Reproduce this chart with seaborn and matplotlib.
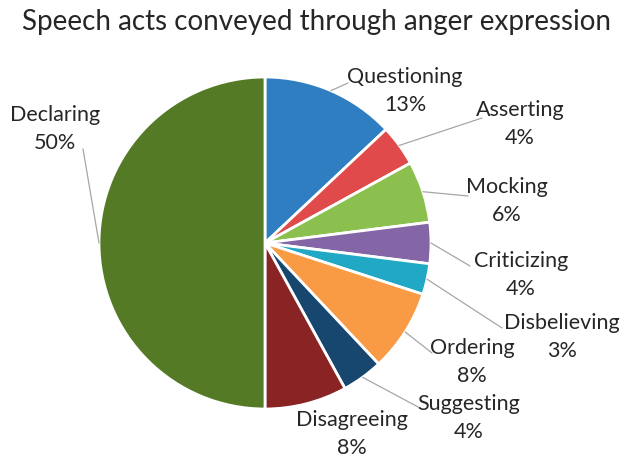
# Pie chart of speech acts conveyed through anger expression.
import numpy as np
import seaborn as sns
import matplotlib
matplotlib.use('Agg')
import matplotlib.pyplot as plt

sns.set_theme(style="white")
plt.rcParams['font.family'] = ['Lato', 'DejaVu Sans']

acts = ["Questioning", "Asserting", "Mocking", "Criticizing", "Disbelieving",
        "Ordering", "Suggesting", "Disagreeing", "Declaring"]
shares = [13, 4, 6, 4, 3, 8, 4, 8, 50]
colors = ["#2E7EC1", "#E04A4A", "#8BC04F", "#8465A6", "#20A8C4",
          "#F99B45", "#17476F", "#8A2424", "#557A25"]

# label text centres (pixels from left / top) and where leader line ends
label_pos = [(405, 91), (520, 124), (507, 201), (521, 275), (562, 337),
             (472, 362), (469, 418), (352, 434), (55, 129)]
leader_end = [(348, 83), (482, 118), (468, 196), (470, 266), (502, 328),
              (432, 353), (420, 408), None, (83, 149)]

W, H = 633, 462
cx, cy, r = 265, 243, 166

fig = plt.figure(figsize=(W / 100, H / 100), dpi=100)
ax = fig.add_axes([0, 0, 1, 1])
ax.axis("off")

wedges, _ = ax.pie(shares, colors=colors, startangle=90, counterclock=False,
                   radius=r, center=(cx, H - cy),
                   wedgeprops=dict(edgecolor="white", linewidth=2))
ax.set_xlim(0, W)
ax.set_ylim(0, H)
ax.set_aspect("equal")

total = sum(shares)
for w, name, val, pos, end in zip(wedges, acts, shares, label_pos, leader_end):
    mid = np.deg2rad((w.theta1 + w.theta2) / 2)
    ax.text(pos[0], H - pos[1], f"{name}\n{val / total:.0%}", ha="center",
            va="center", fontsize=15.5, color="#262626", linespacing=1.5)
    if end is not None:
        sx = cx + r * np.cos(mid)
        sy = H - cy + r * np.sin(mid)
        ax.plot([sx, end[0]], [sy, H - end[1]], color="#A6A6A6", lw=0.9)

fig.text(0.5, 1 - 22 / H, "Speech acts conveyed through anger expression",
         ha="center", va="center", fontsize=20, color="#262626")
fig.savefig("out.png", dpi=100)
